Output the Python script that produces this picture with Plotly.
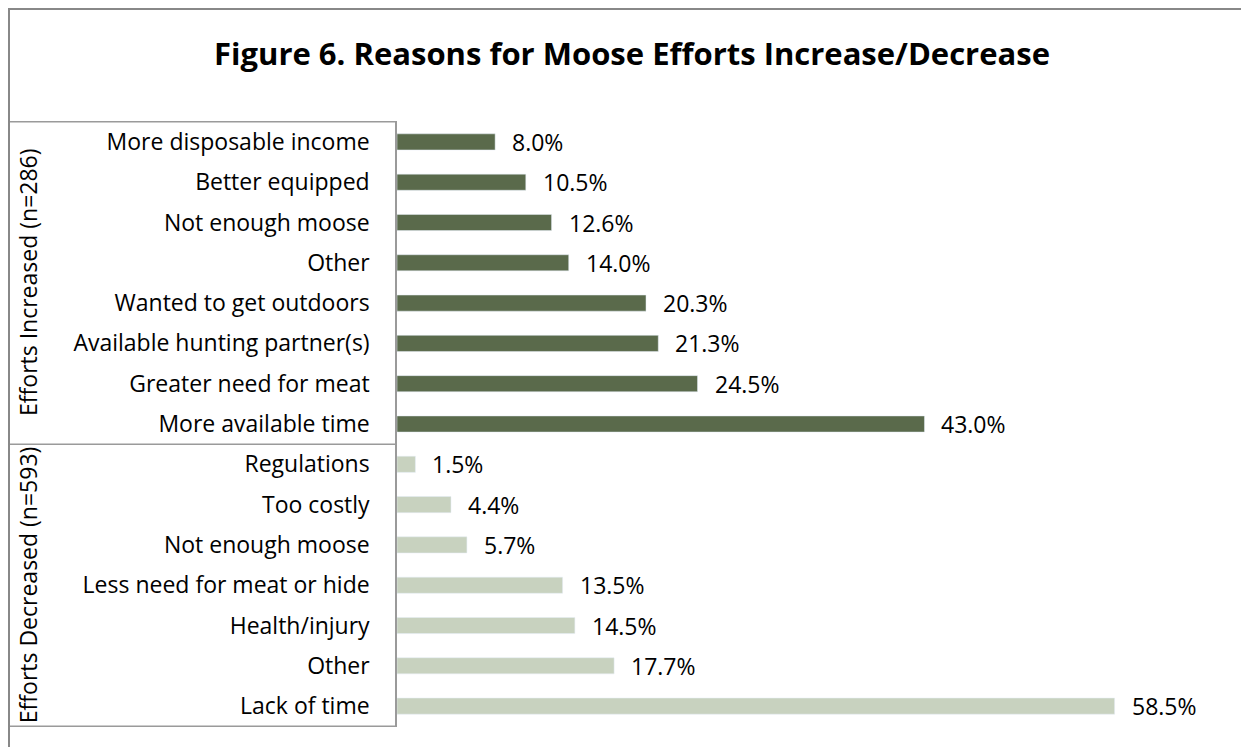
import plotly.graph_objects as go

# ---- data ----
inc_labels = ["More disposable income", "Better equipped", "Not enough moose", "Other",
              "Wanted to get outdoors", "Available hunting partner(s)", "Greater need for meat",
              "More available time"]
inc_values = [8.0, 10.5, 12.6, 14.0, 20.3, 21.3, 24.5, 43.0]
dec_labels = ["Regulations", "Too costly", "Not enough moose", "Less need for meat or hide",
              "Health/injury", "Other", "Lack of time"]
dec_values = [1.5, 4.4, 5.7, 13.5, 14.5, 17.7, 58.5]
group_names = ["Efforts Increased (n=286)", "Efforts Decreased (n=593)"]
title_text = "Figure 6. Reasons for Moose Efforts Increase/Decrease"

DARK = "#5a6a4b"
LIGHT = "#c8d2bf"
LINE = "#9a9a9a"
FONT = "Open Sans"
FS = 23

# figure coordinates (page has an 8px body margin)
W, H = 1241, 739
ML, MR, MT, MB = 389, 116, 113, 20
PW, PH = W - ML - MR, H - MT - MB

def px_x(p):
    return (p - ML) / PW

def px_y(p):
    return (H - MB - p) / PH

inc_ids = [f"inc{i}" for i in range(len(inc_labels))]
dec_ids = [f"dec{i}" for i in range(len(dec_labels))]
all_ids = inc_ids + dec_ids
all_labels = inc_labels + dec_labels

fig = go.Figure()
fig.add_trace(go.Bar(y=inc_ids, x=inc_values, orientation="h", marker_color=DARK,
                     width=0.4, hoverinfo="x+text", hovertext=inc_labels, showlegend=False))
fig.add_trace(go.Bar(y=dec_ids, x=dec_values, orientation="h", marker_color=LIGHT,
                     width=0.4, hoverinfo="x+text", hovertext=dec_labels, showlegend=False))

annotations = []
for yid, v in zip(all_ids, inc_values + dec_values):
    annotations.append(dict(x=v, y=yid, xref="x", yref="y", text=f"{v:.1f}%",
                            showarrow=False, xanchor="left", xshift=15,
                            font=dict(family=FONT, size=FS, color="#000")))

n_inc = len(inc_ids)
n_all = len(all_ids)
group_centers = [(n_inc - 1) / 2, n_inc + (n_all - n_inc - 1) / 2]
for name, c in zip(group_names, group_centers):
    annotations.append(dict(x=px_x(20), y=c, xref="paper", yref="y", text=name,
                            textangle=-90, showarrow=False, xanchor="center", yanchor="middle",
                            font=dict(family=FONT, size=FS, color="#000")))

shapes = []
for yb in [-0.5, n_inc - 0.5, n_all - 0.5]:
    shapes.append(dict(type="line", xref="paper", yref="y", x0=px_x(0), x1=0, y0=yb, y1=yb,
                       line=dict(color=LINE, width=1.5)))
# outer chart border (left and top)
shapes.append(dict(type="line", xref="paper", yref="paper", x0=px_x(1), x1=px_x(1),
                   y0=px_y(0), y1=px_y(H + 5), line=dict(color="#888888", width=2)))
shapes.append(dict(type="line", xref="paper", yref="paper", x0=px_x(0), x1=px_x(W + 5),
                   y0=px_y(1), y1=px_y(1), line=dict(color="#888888", width=2)))

fig.update_layout(
    width=W, height=H,
    margin=dict(l=ML, r=MR, t=MT, b=MB, autoexpand=False),
    paper_bgcolor="white", plot_bgcolor="white",
    title=dict(text=f"<b>{title_text}</b>", x=624 / W, xanchor="center", xref="container",
               y=1 - 46 / H, yanchor="middle", yref="container",
               font=dict(family=FONT, size=31, color="#000")),
    xaxis=dict(range=[0, 60], showgrid=False, zeroline=False, showticklabels=False,
               showline=False, ticks=""),
    yaxis=dict(type="category", categoryarray=all_ids, autorange="reversed",
               tickvals=all_ids, ticktext=all_labels, ticks="", showgrid=False,
               showline=True, linecolor=LINE, linewidth=1.5,
               ticklabelstandoff=21,
               tickfont=dict(family=FONT, size=FS, color="#000")),
    annotations=annotations, shapes=shapes,
    bargap=0.6, showlegend=False,
)

fig.write_html("out.html")
